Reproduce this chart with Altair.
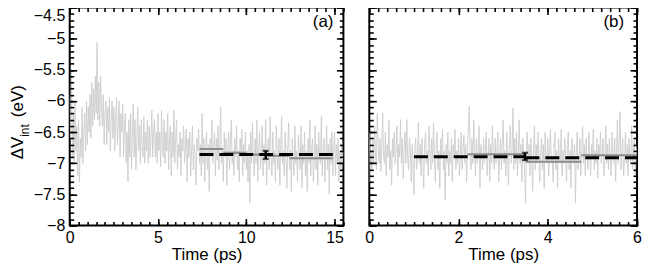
import altair as alt
import pandas as pd

FONT = "Liberation Sans"

# ---------------- axes / ticks ----------------
Y_DOMAIN = [-8.0, -4.5]
Y_MAJOR = [-8, -7.5, -7, -6.5, -6, -5.5, -5, -4.5]
Y_MINOR = [round(-8 + 0.1 * i, 1) for i in range(36)]

A_X_DOMAIN = [0, 15.5]
A_X_MAJOR = [0, 5, 10, 15]
A_X_MINOR = [round(0.5 * i, 1) for i in range(32)]

B_X_DOMAIN = [0, 6]
B_X_MAJOR = [0, 2, 4, 6]
B_X_MINOR = [round(0.2 * i, 1) for i in range(31)]

# ---------------- panel (a) data ----------------
A_STEP = 0.05
A_NOISE = [
    -5.9, -6.6, -5.5, -6.9, -6.2, -7.0, -6.0, -6.8, -6.4, -7.2,
    -6.3, -7.3, -6.6, -6.9, -6.1, -7.0, -6.5, -6.2, -6.8, -6.0,
    -6.7, -6.1, -6.5, -5.9, -6.6, -5.7, -6.4, -5.8, -6.3, -5.6,
    -6.2, -5.06, -6.3, -5.7, -6.4, -5.6, -6.1, -6.4, -5.9, -6.7,
    -6.2, -6.0, -6.7, -6.1, -6.5, -5.95, -6.8, -6.3, -6.0, -6.6,
    -6.1, -6.8, -6.3, -5.95, -6.7, -6.4, -6.0, -6.9, -6.2, -6.5,
    -6.05, -6.9, -6.4, -6.2, -7.0, -6.5, -7.29, -6.3, -6.9, -6.2,
    -7.1, -6.5, -6.05, -6.9, -6.3, -7.1, -6.6, -6.1, -6.8, -6.4,
    -7.0, -6.3, -6.7, -6.9, -6.25, -7.0, -6.5, -6.8, -6.3, -7.0,
    -6.4, -6.9, -6.6, -6.15, -6.9, -6.5, -6.3, -6.9, -6.5, -7.0,
    -6.2, -6.8, -6.5, -7.05, -6.15, -6.7, -6.9, -6.3, -7.0, -6.5,
    -6.8, -6.2, -7.1, -6.6, -6.4, -7.2, -6.5, -6.9, -6.15, -7.0,
    -6.6, -6.3, -7.1, -6.7, -6.9, -6.5, -7.2, -6.6, -6.8, -6.4,
    -7.0, -6.7, -6.45, -7.3, -6.6, -6.9, -6.5, -7.2, -6.8, -6.4,
    -7.1, -6.7, -6.9, -7.35, -6.6, -6.8, -6.45, -7.0, -6.7, -7.2,
    -6.2, -7.0, -6.6, -7.3, -6.8, -6.5, -7.1, -6.7, -7.45, -6.6,
    -6.9, -6.3, -7.0, -6.8, -6.5, -7.2, -6.6, -6.95, -6.4, -7.1,
    -6.7, -6.1, -7.0, -6.8, -7.3, -6.5, -6.9, -6.6, -7.35, -6.8,
    -6.5, -7.1, -6.7, -6.3, -7.0, -6.8, -7.2, -6.6, -6.9, -6.4,
    -7.1, -6.8, -7.3, -6.6, -6.9, -6.45, -7.2, -6.7, -7.0, -6.5,
    -7.1, -6.8, -7.3, -6.7, -7.64, -6.5, -7.0, -6.35, -6.9, -7.2,
    -6.6, -7.0, -6.3, -7.3, -6.8, -6.5, -7.1, -6.9, -6.4, -7.2,
    -6.7, -7.0, -6.3, -7.35, -6.8, -6.6, -7.1, -6.25, -6.9, -7.2,
    -6.5, -7.0, -6.8, -7.3, -6.4, -6.9, -7.1, -6.6, -7.35, -6.7,
    -6.25, -7.0, -6.8, -7.2, -6.5, -6.9, -7.4, -6.7, -6.35, -7.1,
    -6.8, -7.45, -6.6, -6.9, -7.2, -6.4, -7.0, -6.8, -7.3, -6.55,
    -6.9, -7.1, -6.4, -7.4, -6.7, -7.0, -6.5, -7.2, -6.8, -7.45,
    -6.6, -7.0, -6.3, -7.2, -6.8, -6.6, -7.3, -6.9, -6.4, -7.1,
    -6.7, -7.35, -6.5, -6.9, -7.0, -6.25, -7.2, -6.8, -6.6, -7.3,
    -6.9, -6.4, -7.1, -6.7, -7.5, -6.6, -7.0, -6.5, -7.2, -6.8,
    -6.5, -7.2, -6.7, -7.0, -6.6, -7.3, -6.8, -7.1, -6.7, -7.0,
    -6.8,
]
A_DASH_X0 = [7.35]
A_DASH_X1 = [14.9]
A_DASH_Y = [-6.86]
A_GRAY_X0 = [7.35, 8.7, 10.0, 11.2, 12.45]
A_GRAY_X1 = [8.7, 10.0, 11.2, 12.45, 14.9]
A_GRAY_Y = [-6.77, -6.83, -6.86, -6.88, -6.92]
A_ERR_X = [11.1]
A_ERR_LO = [-6.93]
A_ERR_HI = [-6.80]

# ---------------- panel (b) data ----------------
B_STEP = 0.02
B_NOISE = [
    -6.5, -7.3, -6.8, -7.1, -6.6, -7.0, -6.4, -6.9, -7.1, -6.2,
    -6.8, -7.0, -6.6, -7.13, -6.7, -6.19, -6.9, -7.0, -6.5, -7.2,
    -6.7, -6.9, -6.3, -7.1, -6.8, -7.35, -6.6, -6.9, -6.5, -7.0,
    -6.8, -6.4, -7.2, -6.7, -6.9, -6.3, -7.0, -6.6, -7.25, -6.8,
    -6.5, -7.0, -6.3, -6.9, -7.1, -6.6, -6.8, -7.3, -6.7, -7.0,
    -7.51, -6.8, -6.6, -7.1, -6.9, -6.35, -7.0, -6.7, -7.2, -6.6,
    -6.9, -7.4, -6.7, -6.5, -7.0, -6.8, -7.2, -6.4, -6.9, -7.1,
    -6.6, -7.0, -6.35, -6.9, -7.3, -6.7, -6.5, -7.1, -6.8, -7.4,
    -6.6, -6.9, -6.45, -7.1, -6.8, -7.59, -6.7, -7.0, -6.5, -7.2,
    -6.8, -7.0, -6.6, -7.3, -6.7, -6.9, -6.45, -7.1, -6.8, -7.0,
    -6.6, -7.2, -6.9, -6.5, -7.1, -6.8, -6.55, -7.0, -6.7, -7.3,
    -6.8, -6.4, -6.09, -6.9, -7.1, -6.6, -7.0, -6.3, -6.8, -7.2,
    -6.6, -7.0, -6.8, -6.4, -7.4, -6.7, -6.9, -7.1, -6.6, -7.0,
    -6.8, -6.5, -7.2, -6.9, -6.6, -7.3, -6.7, -7.0, -6.4, -6.9,
    -7.1, -6.6, -7.0, -6.8, -6.5, -7.3, -6.9, -6.6, -7.1, -6.7,
    -6.3, -7.0, -6.8, -7.2, -6.5, -6.9, -7.35, -6.7, -6.4, -7.0,
    -6.8, -6.11, -7.1, -6.6, -7.0, -6.5, -7.2, -6.8, -6.3, -7.0,
    -6.7, -7.3, -6.6, -6.9, -7.1, -7.64, -6.8, -6.5, -7.0, -6.7,
    -7.2, -6.6, -6.9, -7.45, -6.8, -6.4, -7.1, -6.7, -7.0, -6.5,
    -6.9, -7.3, -6.8, -6.6, -7.1, -6.7, -7.4, -6.5, -6.9, -7.0,
    -6.6, -7.2, -6.8, -6.45, -7.0, -6.9, -7.3, -6.7, -6.5, -7.1,
    -6.8, -7.4, -6.6, -6.9, -7.0, -6.45, -7.2, -6.8, -7.0, -6.6,
    -6.9, -7.3, -6.7, -6.5, -7.1, -6.8, -7.4, -6.6, -6.9, -7.0,
    -6.7, -7.64, -6.8, -6.5, -7.1, -6.9, -6.6, -7.2, -6.8, -6.41,
    -7.0, -6.7, -7.2, -6.6, -6.9, -7.1, -6.5, -6.8, -7.2, -6.7,
    -6.9, -6.45, -7.1, -6.8, -7.0, -6.6, -7.24, -6.7, -6.9, -6.5,
    -7.0, -6.8, -6.6, -7.2, -6.9, -6.4, -7.0, -6.7, -7.1, -6.6,
    -6.9, -7.2, -6.5, -6.8, -7.0, -6.6, -7.29, -6.8, -6.3, -7.0,
    -6.7, -6.17, -7.1, -6.8, -6.6, -7.2, -6.9, -6.5, -7.0, -6.7,
    -7.2, -6.6, -6.9, -7.0, -6.4, -7.1, -6.8, -6.6, -7.2, -6.9,
    -6.7,
]
B_DASH_X0 = [1.0, 3.5]
B_DASH_X1 = [3.5, 6.0]
B_DASH_Y = [-6.895, -6.91]
B_GRAY_X0 = [2.2, 3.5, 4.75]
B_GRAY_X1 = [3.5, 4.75, 6.0]
B_GRAY_Y = [-6.855, -6.975, -6.87]
B_ERR_X = [3.49]
B_ERR_LO = [-6.95]
B_ERR_HI = [-6.83]

NOISE_COLOR = "#cdcdcd"
STEP_COLOR = "#8c8c8c"
PLOT_H = 219


def panel(noise, step, xdom, xmaj, xminor, dx0, dx1, dy, gx0, gx1, gy,
          ex, elo, ehi, tag, tag_dx, width, ylabels):
    xs = alt.Scale(domain=xdom, nice=False, zero=False)
    ys = alt.Scale(domain=Y_DOMAIN, nice=False, zero=False)
    df_noise = pd.DataFrame({"t": [round(i * step, 4) for i in range(len(noise))],
                             "v": noise})
    frame = pd.DataFrame({"t": xdom, "v": Y_DOMAIN})

    def tick_axis(orient, values, size):
        return alt.Axis(orient=orient, values=values, labels=False, domain=False,
                        ticks=True, tickSize=size, offset=-size, tickColor="black",
                        tickWidth=1.6, grid=False, title=None, zindex=2)

    layers = []
    layers.append(alt.Chart(df_noise).mark_line(color=NOISE_COLOR, strokeWidth=0.9,
                                                clip=True).encode(
        x=alt.X("t:Q", scale=xs, axis=None),
        y=alt.Y("v:Q", scale=ys, axis=None)))

    layers.append(alt.Chart(pd.DataFrame({"x0": gx0, "x1": gx1, "y": gy})).mark_rule(
        color=STEP_COLOR, strokeWidth=2).encode(
        x=alt.X("x0:Q", scale=xs, axis=None), x2="x1:Q",
        y=alt.Y("y:Q", scale=ys, axis=None)))

    layers.append(alt.Chart(pd.DataFrame({"x0": dx0, "x1": dx1, "y": dy})).mark_rule(
        color="black", strokeWidth=3, strokeDash=[14, 6]).encode(
        x=alt.X("x0:Q", scale=xs, axis=None), x2="x1:Q",
        y=alt.Y("y:Q", scale=ys, axis=None)))

    layers.append(alt.Chart(pd.DataFrame({"x": ex, "lo": elo, "hi": ehi})).mark_rule(
        color="black", strokeWidth=2.5).encode(
        x=alt.X("x:Q", scale=xs, axis=None),
        y=alt.Y("lo:Q", scale=ys, axis=None), y2="hi:Q"))
    layers.append(alt.Chart(pd.DataFrame({"x": ex + ex, "y": elo + ehi})).mark_tick(
        color="black", orient="horizontal", size=6, thickness=2).encode(
        x=alt.X("x:Q", scale=xs, axis=None),
        y=alt.Y("y:Q", scale=ys, axis=None)))

    # label axes
    yax = alt.Axis(orient="left", values=Y_MAJOR, ticks=False, domain=False,
                   grid=False, labelPadding=5, labelFontSize=16, labelFont=FONT,
                   labelColor="black", title=None, labelFlush=False,
                   labelOverlap=False, format="~g",
                   labelBaseline={"condition": {"test": "datum.value > -4.6",
                                                "value": "top"},
                                  "value": "middle"}) if ylabels else None
    layers.append(alt.Chart(frame).mark_point(opacity=0).encode(
        x=alt.X("t:Q", scale=xs, axis=alt.Axis(
            orient="bottom", values=xmaj, ticks=False, domain=False, grid=False,
            labelPadding=4, labelFontSize=16, labelFont=FONT, labelColor="black",
            labelFlush=False, labelOverlap=False, labelBound=False, format="~g",
            title="Time (ps)", titleFontSize=17, titleFont=FONT,
            titleFontWeight="normal", titleColor="black", titlePadding=1)),
        y=alt.Y("v:Q", scale=ys, axis=yax)))

    # tick axes (inward major & minor ticks on all four sides)
    for xo, yo in (("bottom", "left"), ("top", "right")):
        for vals_x, vals_y, size in ((xmaj, Y_MAJOR, 7), (xminor, Y_MINOR, 4)):
            layers.append(alt.Chart(frame).mark_point(opacity=0).encode(
                x=alt.X("t:Q", scale=xs, axis=tick_axis(xo, vals_x, size)),
                y=alt.Y("v:Q", scale=ys, axis=tick_axis(yo, vals_y, size))))

    layers.append(alt.Chart(pd.DataFrame({"s": [tag]})).mark_text(
        font=FONT, fontSize=17, align="right", baseline="middle", color="black").encode(
        text="s:N", x=alt.value(width - tag_dx), y=alt.value(14)))

    if ylabels:
        for txt, xp, yp, fs in (("ΔV", -51.5, 141, 17), ("int", -44.5, 123.5, 12),
                                ("(eV)", -51.5, 94, 17)):
            layers.append(alt.Chart(pd.DataFrame({"s": [txt]})).mark_text(
                font=FONT, fontSize=fs, angle=270, align="center",
                baseline="middle", color="black").encode(
                text="s:N", x=alt.value(xp), y=alt.value(yp)))

    return alt.layer(*layers).resolve_axis(x="independent", y="independent").properties(
        width=width, height=PLOT_H)


pa = panel(A_NOISE, A_STEP, A_X_DOMAIN, A_X_MAJOR, A_X_MINOR, A_DASH_X0, A_DASH_X1,
           A_DASH_Y, A_GRAY_X0, A_GRAY_X1, A_GRAY_Y, A_ERR_X, A_ERR_LO, A_ERR_HI,
           "(a)", 10, 275, True)
pb = panel(B_NOISE, B_STEP, B_X_DOMAIN, B_X_MAJOR, B_X_MINOR, B_DASH_X0, B_DASH_X1,
           B_DASH_Y, B_GRAY_X0, B_GRAY_X1, B_GRAY_Y, B_ERR_X, B_ERR_LO, B_ERR_HI,
           "(b)", 13, 269, False)

chart = alt.hconcat(pa, pb, spacing=26, bounds="flush").properties(
    padding={"left": 0, "top": -5, "right": 0, "bottom": 0},
).configure_view(stroke="black", strokeWidth=2)

chart.save("out.html", embed_options={"renderer": "svg", "actions": False})
